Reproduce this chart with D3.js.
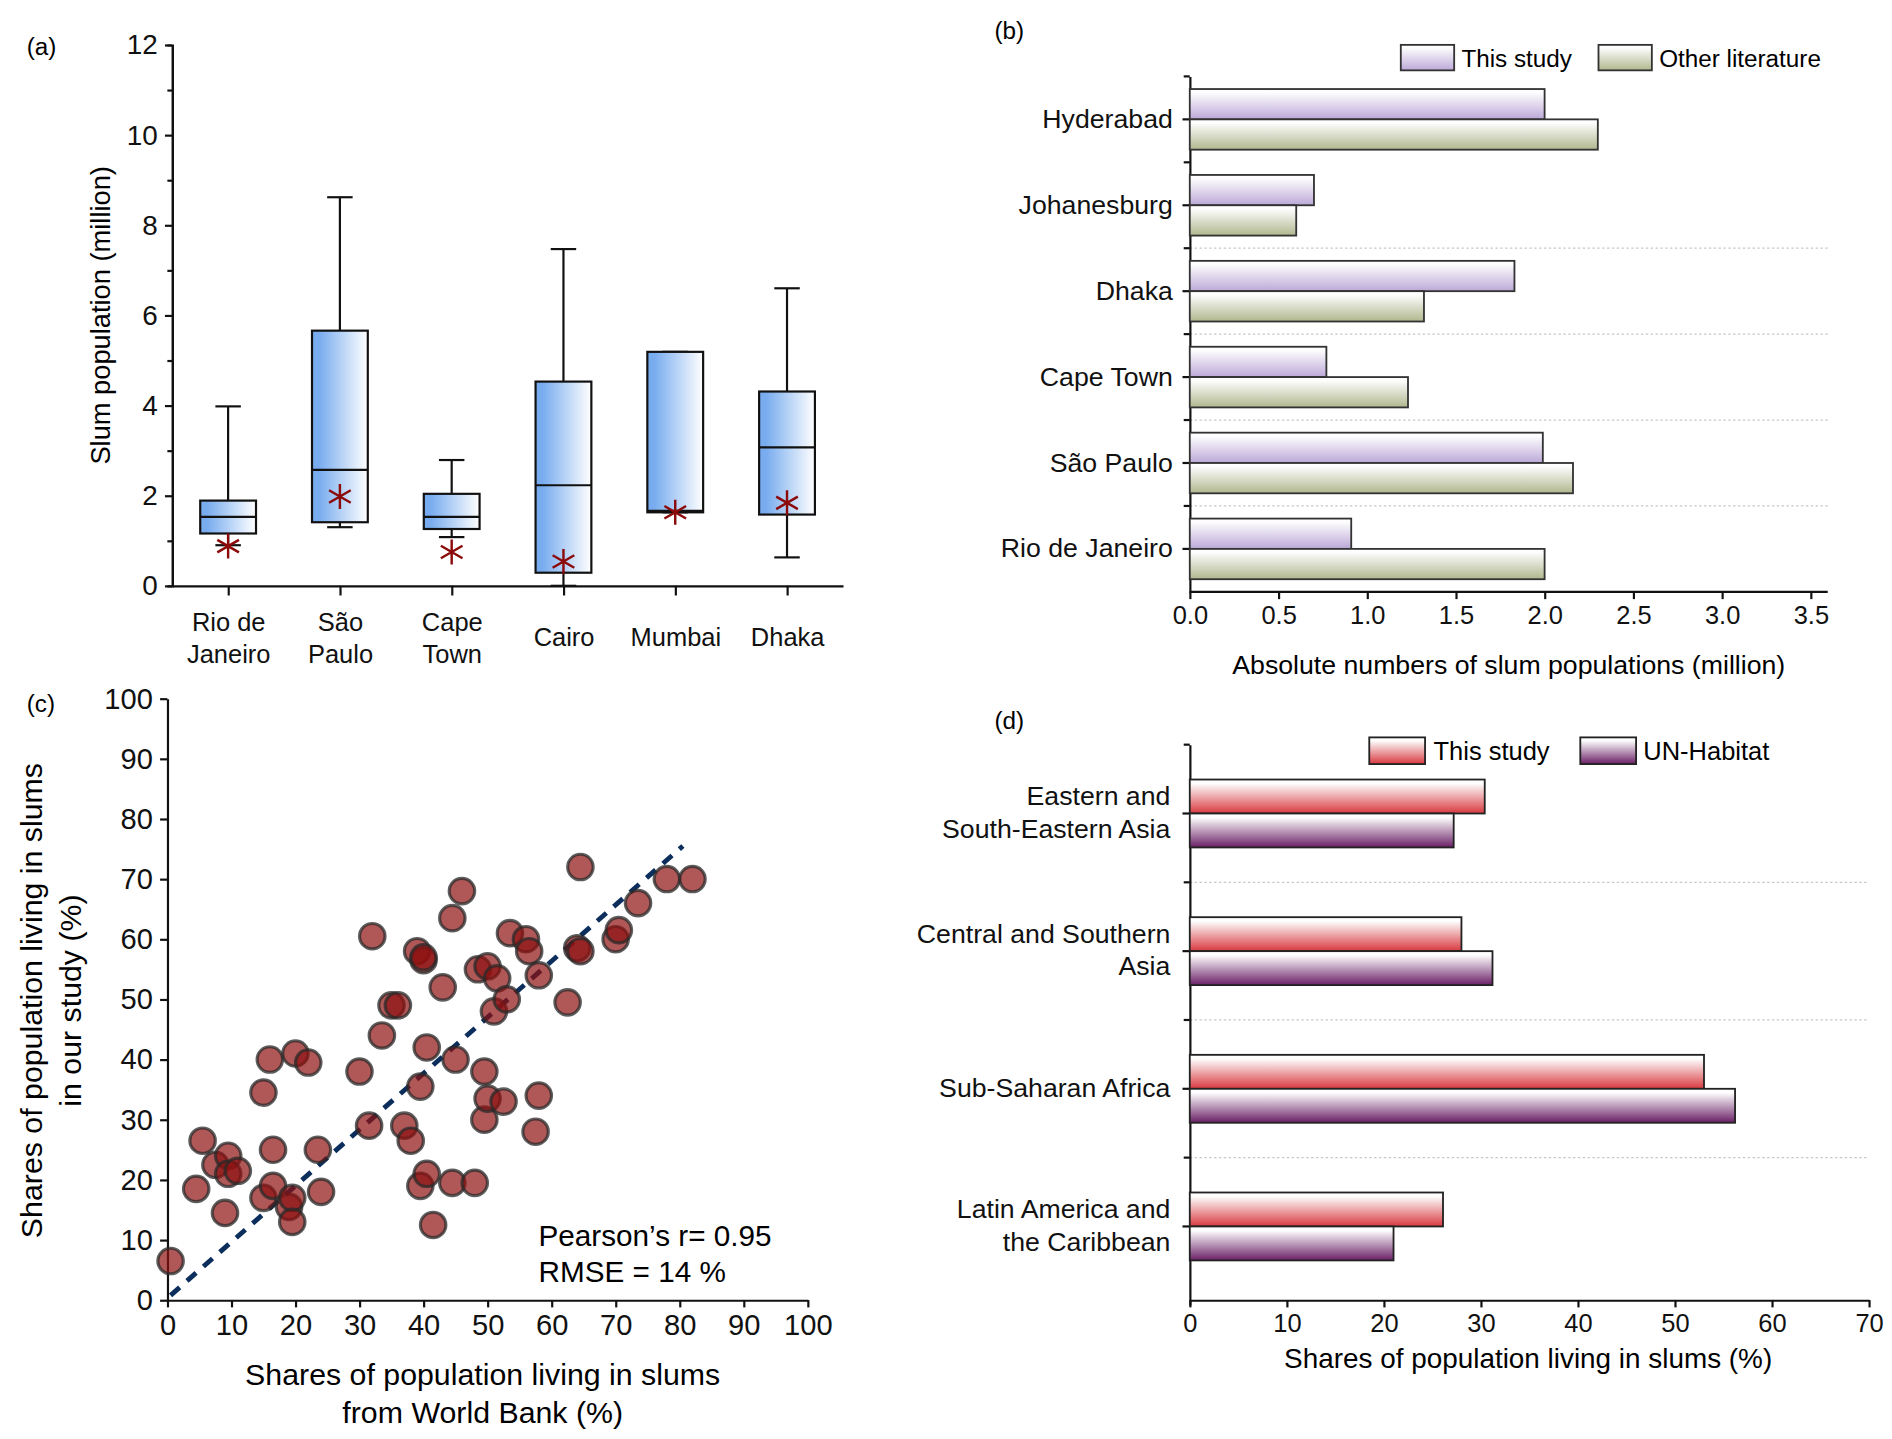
<!DOCTYPE html>
<html>
<head>
<meta charset="utf-8">
<script src="https://cdn.jsdelivr.net/npm/d3@7"></script>
<style>
  body { margin: 0; background: #fff; }
  svg { display: block; font-family: "Liberation Sans", Arial, sans-serif; }
  .axis path, .axis line { stroke: #111; }
  .axis text { fill: #111; }
</style>
</head>
<body>
<div id="viz"></div>
<script>
// (a) box plots of slum population per city (million)
var boxCities = ["Rio de Janeiro", "São Paulo", "Cape Town", "Cairo", "Mumbai", "Dhaka"];
var boxLabels = [["Rio de", "Janeiro"], ["São", "Paulo"], ["Cape", "Town"], ["Cairo"], ["Mumbai"], ["Dhaka"]];
var boxMin = [0.90, 1.30, 1.08, 0.00, 1.63, 0.63];
var boxQ1 = [1.16, 1.41, 1.26, 0.29, 1.63, 1.58];
var boxMedian = [1.53, 2.57, 1.53, 2.23, 1.66, 3.07];
var boxQ3 = [1.89, 5.66, 2.04, 4.53, 5.19, 4.31];
var boxMax = [3.98, 8.62, 2.79, 7.47, 5.19, 6.60];
var boxStar = [0.88, 1.98, 0.75, 0.54, 1.63, 1.84];
var aTicks = [0, 2, 4, 6, 8, 10, 12];

// (b) absolute numbers (million)
var absCities = ["Rio de Janeiro", "São Paulo", "Cape Town", "Dhaka", "Johanesburg", "Hyderabad"];
var absThisStudy = [0.91, 1.99, 0.77, 1.83, 0.70, 2.00];
var absOtherLit = [2.00, 2.16, 1.23, 1.32, 0.60, 2.30];
var bTicks = [0, 0.5, 1, 1.5, 2, 2.5, 3, 3.5];

// (c) shares: World Bank vs our study (%)
var worldBank = [0.5, 4.5, 5.5, 7.5, 9, 9.5, 9.5, 11, 15, 15, 16, 16.5, 16.5, 19, 19.5, 19.5, 20, 22, 23.5, 24,
  30, 31.5, 32, 33.5, 35, 36, 37, 38, 39, 40, 40, 39.5, 39.5, 40.5, 40.5, 41.5, 43, 44.5, 44.5, 45,
  46, 48, 48.5, 49.5, 49.5, 50, 50, 51, 51.5, 52.5, 53, 53.5, 56, 56.5, 58, 58, 57.5, 62.5, 64, 64.5,
  64.5, 70, 70.5, 73.5, 78, 82];
var ourStudy = [6.5, 18.5, 26.5, 22.5, 14.5, 24, 21, 21.5, 17, 34.5, 40, 19, 25, 15.5, 17, 13, 41, 39.5, 25, 18,
  38, 29, 60.5, 44, 49, 49, 29, 26.5, 58, 56.5, 57, 35.5, 19, 21, 42, 12.5, 52, 63.5, 19.5, 40,
  68, 19.5, 55, 38, 30, 55.5, 33.5, 48, 53.5, 33, 50, 61, 60, 58, 54, 34, 28, 49.5, 58.5, 58,
  72, 60, 61.5, 66, 70, 70];
var fitLine = [{x: 0.5, y: 0.8}, {x: 80.5, y: 75.5}];
var cTicks = [0, 10, 20, 30, 40, 50, 60, 70, 80, 90, 100];

// (d) regional shares (%)
var regions = ["Latin America and the Caribbean", "Sub-Saharan Africa", "Central and Southern Asia", "Eastern and South-Eastern Asia"];
var regionLabels = [["Latin America and", "the Caribbean"], ["Sub-Saharan Africa"], ["Central and Southern", "Asia"], ["Eastern and", "South-Eastern Asia"]];
var shareThisStudy = [26.1, 53.0, 28.0, 30.4];
var shareUNHabitat = [21.0, 56.2, 31.2, 27.2];
var dTicks = [0, 10, 20, 30, 40, 50, 60, 70];

var svg = d3.select("#viz").append("svg")
  .attr("width", 1892).attr("height", 1439)
  .attr("viewBox", "0 0 1560 1186.5");

var defs = svg.append("defs");
function grad(id, horizontal, c0, c1) {
  var g = defs.append("linearGradient").attr("id", id)
    .attr("x1", 0).attr("y1", 0).attr("x2", horizontal ? 1 : 0).attr("y2", horizontal ? 0 : 1);
  g.append("stop").attr("offset", "0%").attr("stop-color", c0);
  g.append("stop").attr("offset", "12%").attr("stop-color", horizontal ? c0 : "#fdfdfd");
  g.append("stop").attr("offset", "100%").attr("stop-color", c1);
}
grad("gBox", true, "#78acef", "#ffffff");
grad("gPurpleLight", false, "#ffffff", "#bca8d8");
grad("gGreen", false, "#ffffff", "#b0b78e");
grad("gRed", false, "#ffffff", "#d8393f");
grad("gPurpleDark", false, "#ffffff", "#6a1f66");

function styleAxis(g, fs) {
  g.attr("class", "axis");
  g.selectAll("path").attr("stroke-width", 1.8);
  g.selectAll("line").attr("stroke-width", 1.8);
  g.selectAll("text").attr("font-size", fs).attr("font-family", "Liberation Sans, Arial, sans-serif");
}

function panelLabel(t, x, y) {
  svg.append("text").attr("x", x).attr("y", y).attr("font-size", 20).text(t);
}

// ---------- (a) ----------
panelLabel("(a)", 22, 45);
var ax = d3.scalePoint().domain(boxCities).range([142, 695]).padding(0.5);
var ay = d3.scaleLinear().domain([0, 12]).range([483, 37]);

var aMinor = svg.append("g").attr("transform", "translate(142,0)")
  .call(d3.axisLeft(ay).tickValues([1, 3, 5, 7, 9, 11]).tickSize(4).tickFormat(""));
styleAxis(aMinor, 20);
var aY = svg.append("g").attr("transform", "translate(142,0)")
  .call(d3.axisLeft(ay).tickValues(aTicks).tickSize(6).tickPadding(6).tickSizeOuter(0));
styleAxis(aY, 23);
var aX = svg.append("g").attr("transform", "translate(0,483)")
  .call(d3.axisBottom(ax).tickSize(8).tickSizeOuter(0).tickFormat(""));
styleAxis(aX, 21);
aX.selectAll(".tick").each(function(d, i) {
  var lines = boxLabels[i];
  var t = d3.select(this).append("text").attr("fill", "#111").attr("font-size", 21)
    .attr("text-anchor", "middle");
  var y0 = lines.length == 2 ? 37 : 50;
  lines.forEach(function(l, k) {
    t.append("tspan").attr("x", 0).attr("y", y0 + k * 27).text(l);
  });
});
svg.append("text").attr("transform", "translate(91,260) rotate(-90)")
  .attr("text-anchor", "middle").attr("font-size", 22.5).text("Slum population (million)");

var boxW = 46, capW = 21;
var boxes = svg.append("g").selectAll("g").data(boxCities).enter().append("g")
  .attr("transform", d => `translate(${ax(d)},0)`);
boxes.append("line").attr("y1", (d, i) => ay(boxMax[i])).attr("y2", (d, i) => ay(boxQ3[i]))
  .attr("stroke", "#111").attr("stroke-width", 1.8);
boxes.append("line").attr("y1", (d, i) => ay(boxQ1[i])).attr("y2", (d, i) => ay(boxMin[i]))
  .attr("stroke", "#111").attr("stroke-width", 1.8);
boxes.append("line").attr("x1", -capW / 2).attr("x2", capW / 2)
  .attr("y1", (d, i) => ay(boxMax[i])).attr("y2", (d, i) => ay(boxMax[i]))
  .attr("stroke", "#111").attr("stroke-width", 1.8);
boxes.append("line").attr("x1", -capW / 2).attr("x2", capW / 2)
  .attr("y1", (d, i) => ay(boxMin[i])).attr("y2", (d, i) => ay(boxMin[i]))
  .attr("stroke", "#111").attr("stroke-width", 1.8);
boxes.append("rect").attr("x", -boxW / 2).attr("width", boxW)
  .attr("y", (d, i) => ay(boxQ3[i])).attr("height", (d, i) => ay(boxQ1[i]) - ay(boxQ3[i]))
  .attr("fill", "url(#gBox)").attr("stroke", "#111").attr("stroke-width", 1.8);
boxes.append("line").attr("x1", -boxW / 2).attr("x2", boxW / 2)
  .attr("y1", (d, i) => ay(boxMedian[i])).attr("y2", (d, i) => ay(boxMedian[i]))
  .attr("stroke", "#111").attr("stroke-width", 1.8);
boxes.append("path").attr("d", d3.symbol(d3.symbolAsterisk, 300))
  .attr("transform", (d, i) => `translate(0,${ay(boxStar[i])})`)
  .attr("stroke", "#8b0a0a").attr("stroke-width", 2).attr("fill", "none");

// ---------- (b) ----------
panelLabel("(b)", 820, 32);
var bx = d3.scaleLinear().domain([0, 3.5]).range([981, 1493]);
var by = d3.scaleBand().domain(absCities).range([488, 63]);
var bBar = 25;

var bGrid = svg.append("g");
bGrid.selectAll("line").data(absCities.slice(1, 5)).enter().append("line")
  .attr("x1", 981).attr("x2", 1507)
  .attr("y1", d => by(d) + by.bandwidth()).attr("y2", d => by(d) + by.bandwidth())
  .attr("stroke", "#c8c8c8").attr("stroke-width", 1).attr("stroke-dasharray", "2,2");

var bYminor = svg.append("g").attr("transform", "translate(981,0)")
  .call(d3.axisLeft(by).tickSize(0).tickFormat(""));
styleAxis(bYminor, 20);
bYminor.selectAll(".minor").data(absCities).enter().append("line").attr("class", "minor")
  .attr("x1", -5).attr("x2", 0).attr("y1", d => by(d)).attr("y2", d => by(d))
  .attr("stroke", "#111").attr("stroke-width", 1.8);
var bY = svg.append("g").attr("transform", "translate(981,0)")
  .call(d3.axisLeft(by).tickSize(6).tickPadding(8).tickSizeOuter(0));
styleAxis(bY, 22);
bY.select(".domain").remove();

var bX = svg.append("g").attr("transform", "translate(0,488)")
  .call(d3.axisBottom(bx).tickValues(bTicks).tickFormat(d3.format(".1f")).tickSize(6).tickPadding(6).tickSizeOuter(0));
styleAxis(bX, 21);
bX.select(".domain").attr("d", "M981,0H1507");
svg.append("text").attr("x", 1244).attr("y", 556).attr("text-anchor", "middle").attr("font-size", 22)
  .text("Absolute numbers of slum populations (million)");

var bGroups = svg.append("g").selectAll("g").data(absCities).enter().append("g")
  .attr("transform", d => `translate(0,${by(d) + by.bandwidth() / 2})`);
bGroups.append("rect").attr("x", bx(0)).attr("y", -bBar).attr("height", bBar)
  .attr("width", (d, i) => bx(absThisStudy[i]) - bx(0))
  .attr("fill", "url(#gPurpleLight)").attr("stroke", "#333").attr("stroke-width", 1.5);
bGroups.append("rect").attr("x", bx(0)).attr("y", 0).attr("height", bBar)
  .attr("width", (d, i) => bx(absOtherLit[i]) - bx(0))
  .attr("fill", "url(#gGreen)").attr("stroke", "#333").attr("stroke-width", 1.5);

var bLeg = svg.append("g");
bLeg.append("rect").attr("x", 1155).attr("y", 37).attr("width", 44).attr("height", 21)
  .attr("fill", "url(#gPurpleLight)").attr("stroke", "#333").attr("stroke-width", 1.5);
bLeg.append("text").attr("x", 1205).attr("y", 55).attr("font-size", 20).text("This study");
bLeg.append("rect").attr("x", 1318).attr("y", 37).attr("width", 44).attr("height", 21)
  .attr("fill", "url(#gGreen)").attr("stroke", "#333").attr("stroke-width", 1.5);
bLeg.append("text").attr("x", 1368).attr("y", 55).attr("font-size", 20).text("Other literature");

// ---------- (c) ----------
panelLabel("(c)", 22, 587);
var cx = d3.scaleLinear().domain([0, 100]).range([138, 666]);
var cy = d3.scaleLinear().domain([0, 100]).range([1072, 576]);

var cX = svg.append("g").attr("transform", "translate(0,1072)")
  .call(d3.axisBottom(cx).tickValues(cTicks).tickSize(6).tickPadding(6).tickSizeOuter(0));
styleAxis(cX, 24);
var cY = svg.append("g").attr("transform", "translate(138,0)")
  .call(d3.axisLeft(cy).tickValues(cTicks).tickSize(6).tickPadding(6).tickSizeOuter(0));
styleAxis(cY, 24);

svg.append("path").datum(fitLine)
  .attr("d", d3.line().x(d => cx(d.x)).y(d => cy(d.y)))
  .attr("stroke", "#0c2e5c").attr("stroke-width", 4).attr("stroke-dasharray", "10,8").attr("fill", "none");

svg.append("g").selectAll("circle").data(worldBank).enter().append("circle")
  .attr("cx", d => cx(d)).attr("cy", (d, i) => cy(ourStudy[i])).attr("r", 10.5)
  .attr("fill", "#8e1010").attr("fill-opacity", 0.7)
  .attr("stroke", "#2a2a2a").attr("stroke-opacity", 0.75).attr("stroke-width", 2.6);

var cXl = svg.append("text").attr("text-anchor", "middle").attr("font-size", 25);
cXl.append("tspan").attr("x", 398).attr("y", 1142).text("Shares of population living in slums");
cXl.append("tspan").attr("x", 398).attr("y", 1173).text("from World Bank (%)");
var cYl = svg.append("text").attr("transform", "translate(0,825) rotate(-90)")
  .attr("text-anchor", "middle").attr("font-size", 25);
cYl.append("tspan").attr("x", 0).attr("y", 35).text("Shares of population living in slums");
cYl.append("tspan").attr("x", 0).attr("y", 67).text("in our study (%)");

svg.append("text").attr("x", 444).attr("y", 1027).attr("font-size", 24.5).text("Pearson’s r= 0.95");
svg.append("text").attr("x", 444).attr("y", 1057).attr("font-size", 24.5).text("RMSE = 14 %");

// ---------- (d) ----------
panelLabel("(d)", 820, 601);
var dx = d3.scaleLinear().domain([0, 70]).range([981, 1541]);
var dy = d3.scaleBand().domain(regions).range([1068, 614]);
var dBar = 28;

svg.append("g").selectAll("line").data(regions.slice(1)).enter().append("line")
  .attr("x1", 981).attr("x2", 1541)
  .attr("y1", d => dy(d) + dy.bandwidth()).attr("y2", d => dy(d) + dy.bandwidth())
  .attr("stroke", "#c8c8c8").attr("stroke-width", 1).attr("stroke-dasharray", "2,2");

var dYline = svg.append("g").attr("transform", "translate(981,0)")
  .call(d3.axisLeft(d3.scaleLinear().domain([0, 1]).range([1076, 614])).tickValues([]).tickSizeOuter(0));
styleAxis(dYline, 20);
dYline.selectAll(".minor").data(regions).enter().append("line").attr("class", "minor")
  .attr("x1", -5).attr("x2", 0).attr("y1", d => dy(d)).attr("y2", d => dy(d))
  .attr("stroke", "#111").attr("stroke-width", 1.8);
var dY = svg.append("g").attr("transform", "translate(981,0)")
  .call(d3.axisLeft(dy).tickSize(6).tickSizeOuter(0).tickFormat(""));
styleAxis(dY, 22);
dY.select(".domain").remove();
dY.selectAll(".tick").each(function(d, i) {
  var lines = regionLabels[i];
  var t = d3.select(this).append("text").attr("fill", "#111").attr("font-size", 22)
    .attr("text-anchor", "end");
  var y0 = lines.length == 2 ? -7 : 7;
  lines.forEach(function(l, k) {
    t.append("tspan").attr("x", -16).attr("y", y0 + k * 27).text(l);
  });
});

var dX = svg.append("g").attr("transform", "translate(0,1072)")
  .call(d3.axisBottom(dx).tickValues(dTicks).tickSize(6).tickPadding(5).tickSizeOuter(0));
styleAxis(dX, 21);
svg.append("text").attr("x", 1260).attr("y", 1128).attr("text-anchor", "middle").attr("font-size", 23)
  .text("Shares of population living in slums (%)");

var dGroups = svg.append("g").selectAll("g").data(regions).enter().append("g")
  .attr("transform", d => `translate(0,${dy(d) + dy.bandwidth() / 2})`);
dGroups.append("rect").attr("x", dx(0)).attr("y", -dBar).attr("height", dBar)
  .attr("width", (d, i) => dx(shareThisStudy[i]) - dx(0))
  .attr("fill", "url(#gRed)").attr("stroke", "#222").attr("stroke-width", 1.5);
dGroups.append("rect").attr("x", dx(0)).attr("y", 0).attr("height", dBar)
  .attr("width", (d, i) => dx(shareUNHabitat[i]) - dx(0))
  .attr("fill", "url(#gPurpleDark)").attr("stroke", "#222").attr("stroke-width", 1.5);

var dLeg = svg.append("g");
dLeg.append("rect").attr("x", 1129).attr("y", 608).attr("width", 46).attr("height", 22)
  .attr("fill", "url(#gRed)").attr("stroke", "#222").attr("stroke-width", 1.5);
dLeg.append("text").attr("x", 1182).attr("y", 627).attr("font-size", 21).text("This study");
dLeg.append("rect").attr("x", 1303).attr("y", 608).attr("width", 46).attr("height", 22)
  .attr("fill", "url(#gPurpleDark)").attr("stroke", "#222").attr("stroke-width", 1.5);
dLeg.append("text").attr("x", 1355).attr("y", 627).attr("font-size", 21).text("UN-Habitat");
</script>
</body>
</html>
